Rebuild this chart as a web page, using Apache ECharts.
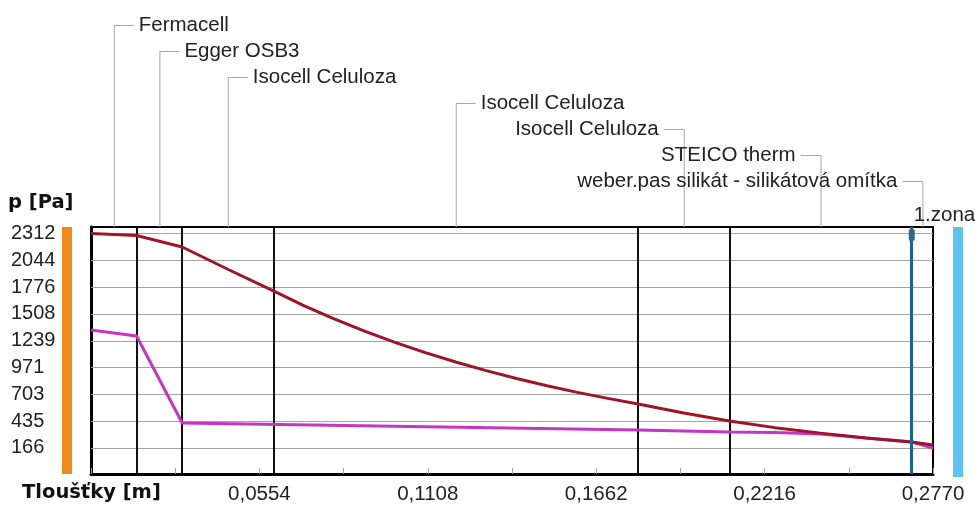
<!DOCTYPE html>
<html><head><meta charset="utf-8">
<script src="https://cdn.jsdelivr.net/npm/echarts@6/dist/echarts.min.js"></script>
<style>html,body{margin:0;padding:0;background:#fff}#c{width:975px;height:507px}</style>
</head><body><div id="c"></div>
<script>
// ---- data ----
const layerNames = ["Fermacell", "Egger OSB3", "Isocell Celuloza", "Isocell Celuloza", "Isocell Celuloza", "STEICO therm", "weber.pas silikát - silikátová omítka"];
const layerBounds = [0, 0.015, 0.030, 0.060, 0.180, 0.210, 0.270, 0.277];
const zoneX = [0.270];
const zoneLabels = ["1.zona"];
// saturated vapour pressure (dark red)
const redX = [0, 0.015, 0.030, 0.045, 0.060, 0.070, 0.080, 0.090, 0.100, 0.110, 0.120, 0.130, 0.140, 0.150, 0.160, 0.170, 0.180, 0.195, 0.210, 0.225, 0.240, 0.255, 0.270, 0.277];
const redY = [2312, 2293, 2178, 1955, 1738, 1592, 1459, 1336, 1224, 1121, 1027, 941, 862, 789, 723, 663, 607, 517, 437, 370, 315, 267, 226, 196];
// partial vapour pressure (magenta)
const magX = [0, 0.015, 0.030, 0.180, 0.210, 0.225, 0.240, 0.255, 0.270, 0.277];
const magY = [1347, 1287, 416, 346, 326, 321, 306, 266, 226, 166];
const yTickVals = [166.4, 434.65, 702.9, 971.15, 1239.4, 1507.65, 1775.9, 2044.15, 2312.4];
const yTickLabels = ["166", "435", "703", "971", "1239", "1508", "1776", "2044", "2312"];
const xTickVals = [0.0554, 0.1108, 0.1662, 0.2216, 0.2770];
const xTickLabels = ["0,0554", "0,1108", "0,1662", "0,2216", "0,2770"];
const yName = "p [Pa]";
const xName = "Tloušťky [m]";

// ---- chart ----
const FONT = "'Liberation Sans', Arial, sans-serif";
const chart = echarts.init(document.getElementById('c'), null, {renderer: 'canvas'});
const zip = (xs, ys) => xs.map((x, i) => [x, ys[i]]);
const nearestIdx = (arr, v) => { let b = 0; arr.forEach((a, i) => { if (Math.abs(a - v) < Math.abs(arr[b] - v)) b = i; }); return b; };

chart.setOption({
  animation: false,
  backgroundColor: '#ffffff',
  grid: {left: 91, right: 42, top: 227, bottom: 33, show: true, borderColor: '#000', borderWidth: 2, backgroundColor: 'transparent'},
  xAxis: {
    type: 'value', min: 0, max: 0.277, interval: 0.0277,
    axisLine: {show: true, onZero: false, lineStyle: {color: '#000', width: 3}},
    axisTick: {show: true, inside: true, length: 6, lineStyle: {color: '#a0a0a0', width: 1}},
    axisLabel: {
      customValues: xTickVals, margin: 10, color: '#222', fontFamily: FONT, fontSize: 20.5,
      formatter: v => xTickLabels[nearestIdx(xTickVals, v)]
    },
    splitLine: {show: false}
  },
  yAxis: {
    type: 'value', min: -94, max: 2378,
    axisLine: {show: true, onZero: false, lineStyle: {color: '#000', width: 3}},
    axisTick: {show: true, inside: true, length: 4, customValues: yTickVals, lineStyle: {color: '#a0a0a0'}},
    axisLabel: {
      customValues: yTickVals, align: 'left', margin: 80, color: '#222', fontFamily: FONT, fontSize: 20,
      formatter: v => yTickLabels[nearestIdx(yTickVals, v)]
    },
    splitLine: {show: false}
  },
  series: [
    { // horizontal grid lines at tick values
      type: 'line', data: [[0, yTickVals[0]]], showSymbol: false, silent: true, z: 1,
      lineStyle: {opacity: 0},
      markLine: {silent: true, symbol: 'none', z: 1, precision: 4, animation: false, label: {show: false},
        lineStyle: {color: '#a4a4a4', width: 1, type: 'solid'},
        data: yTickVals.map(v => ({yAxis: v}))}
    },
    { // layer boundaries
      type: 'line', data: [[0, yTickVals[0]]], showSymbol: false, silent: true, z: 2,
      lineStyle: {opacity: 0},
      markLine: {silent: true, symbol: 'none', z: 2, precision: 4, animation: false, label: {show: false},
        lineStyle: {color: '#111', width: 2, type: 'solid'},
        data: layerBounds.slice(1, -2).map(v => ({xAxis: v}))}
    },
    {
      name: 'p', type: 'line', data: zip(magX, magY), showSymbol: false, z: 3,
      lineStyle: {color: '#c634c6', width: 3}
    },
    {
      name: 'psat', type: 'line', data: zip(redX, redY), showSymbol: false, z: 4,
      lineStyle: {color: '#a01428', width: 3}
    },
    { // condensation zone boundary
      type: 'line', data: [[0, yTickVals[0]]], showSymbol: false, silent: true, z: 6,
      lineStyle: {opacity: 0},
      markLine: {silent: true, symbol: 'none', z: 6, precision: 4, animation: false, label: {show: false},
        lineStyle: {color: '#1f5ea8', width: 3, type: 'solid'},
        data: zoneX.map(v => ({xAxis: v}))}
    }
  ]
});

// ---- annotations positioned through the axis scales ----
const px = (x, y) => chart.convertToPixel({gridIndex: 0}, [x, y]);
const topY = px(0, 2378)[1];
const botY = px(0, -94)[1];
const leftX = px(0, 0)[0];
const rightX = px(0.277, 0)[0];
const els = [];
const labelFont = 'normal 20.5px ' + FONT;
layerNames.forEach((name, i) => {
  const mid = px((layerBounds[i] + layerBounds[i + 1]) / 2, 0)[0];
  const ly = 25 + 26 * i;
  const right = i < 4;
  els.push({type: 'polyline', silent: true, z: 10,
    shape: {points: [[mid + 0.5, topY], [mid + 0.5, ly + 0.5], [mid + (right ? 20 : -20), ly + 0.5]]},
    style: {stroke: '#a8a8a8', lineWidth: 1, fill: null}});
  els.push({type: 'text', silent: true, z: 10, x: mid + (right ? 25 : -25), y: ly,
    style: {text: name, font: labelFont, fill: '#222', align: right ? 'left' : 'right', verticalAlign: 'middle'}});
});
zoneX.forEach((zx, i) => {
  const p = px(zx, 0)[0];
  els.push({type: 'text', silent: true, z: 10, x: p + 2, y: 215,
    style: {text: zoneLabels[i], font: labelFont, fill: '#222', align: 'left', verticalAlign: 'middle'}});
  els.push({type: 'rect', silent: true, z: 12, shape: {x: p - 3, y: topY + 2, width: 6, height: 12, r: 2},
    style: {fill: '#2c6a8c'}});
});
// side colour bars (interior / exterior)
els.push({type: 'rect', silent: true, shape: {x: leftX - 29, y: topY, width: 10, height: botY - topY}, style: {fill: '#f08a1c'}});
els.push({type: 'rect', silent: true, shape: {x: rightX + 20, y: topY, width: 10, height: botY - topY + 3}, style: {fill: '#5cc2f2'}});
// axis titles
els.push({type: 'text', silent: true, x: 8, y: 203,
  style: {text: yName, font: 'bold 19.5px DejaVu Sans, sans-serif', fill: '#111', align: 'left', verticalAlign: 'middle'}});
els.push({type: 'text', silent: true, x: 22, y: 493,
  style: {text: xName, font: 'bold 19.5px DejaVu Sans, sans-serif', fill: '#111', align: 'left', verticalAlign: 'middle'}});
chart.setOption({graphic: {elements: els}});
</script>
</body></html>
